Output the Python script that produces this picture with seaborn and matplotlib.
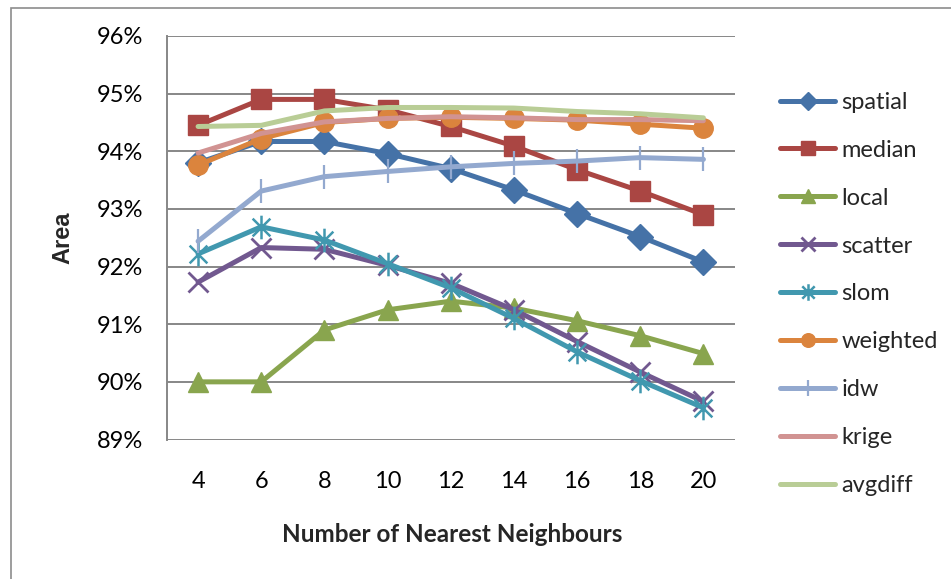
import matplotlib
matplotlib.use("Agg")
import matplotlib.pyplot as plt
from matplotlib.lines import Line2D
from matplotlib.patches import Rectangle
from matplotlib.path import Path
from matplotlib.ticker import FuncFormatter, MultipleLocator
import seaborn as sns
import pandas as pd

# Number of nearest neighbours (category axis)
neighbours = [4, 6, 8, 10, 12, 14, 16, 18, 20]

# Area (%) for each method
spatial  = [93.80, 94.17, 94.17, 93.96, 93.70, 93.33, 92.92, 92.52, 92.08]
median   = [94.45, 94.90, 94.90, 94.72, 94.43, 94.09, 93.68, 93.31, 92.90]
local    = [90.00, 90.00, 90.90, 91.25, 91.40, 91.28, 91.06, 90.80, 90.49]
scatter  = [91.73, 92.33, 92.30, 92.02, 91.71, 91.25, 90.70, 90.17, 89.66]
slom     = [92.22, 92.69, 92.46, 92.05, 91.63, 91.10, 90.52, 90.02, 89.55]
weighted = [93.76, 94.22, 94.50, 94.57, 94.59, 94.57, 94.54, 94.47, 94.40]
idw      = [92.44, 93.31, 93.56, 93.65, 93.73, 93.79, 93.83, 93.89, 93.86]
krige    = [93.97, 94.31, 94.51, 94.57, 94.60, 94.58, 94.55, 94.55, 94.53]
avgdiff  = [94.43, 94.45, 94.70, 94.76, 94.76, 94.75, 94.69, 94.65, 94.58]

series_names = ["spatial", "median", "local", "scatter", "slom",
                "weighted", "idw", "krige", "avgdiff"]
series_values = [spatial, median, local, scatter, slom,
                 weighted, idw, krige, avgdiff]
colors = ["#4572A7", "#AA4643", "#89A54E", "#71588F", "#4198AF",
          "#DB843D", "#93A9CF", "#D19392", "#B9CD96"]

# Asterisk marker: a vertical stroke crossed by an "x"
ASTERISK = Path([(0, -1), (0, 1), (-0.75, -0.75), (0.75, 0.75),
                 (-0.75, 0.75), (0.75, -0.75)],
                [Path.MOVETO, Path.LINETO] * 3)

markers = ["D", "s", "^", "x", ASTERISK, "o", "|", None, None]
marker_sizes = [13, 14, 15, 14, 17, 14, 17, 0, 0]
marker_edge = [1, 1, 1, 2.0, 1.8, 1, 1.6, 1, 1]
open_markers = {"x", "|"}

sns.set_theme(style="white")
plt.rcParams["font.family"] = ["Lato", "DejaVu Sans"]

FS = 17

fig = plt.figure(figsize=(9.51, 5.79), dpi=100)
ax = fig.add_axes([166.5 / 951, 1 - 439.5 / 579, 568.5 / 951, 403.5 / 579])


def marker_style(mk, ms, mew, col):
    face = "none" if (isinstance(mk, Path) or mk in open_markers) else col
    return dict(marker=mk, markersize=ms, markeredgewidth=mew,
                markeredgecolor=col, markerfacecolor=face)


pos = list(range(len(neighbours)))
for name, vals, col, mk, ms, mew in zip(series_names, series_values, colors,
                                        markers, marker_sizes, marker_edge):
    df = pd.DataFrame({"pos": pos, "area": vals})
    kw = dict(linewidth=3.6, color=col, ax=ax, legend=False,
              solid_capstyle="round", solid_joinstyle="round")
    if mk is not None:
        kw.update(marker_style(mk, ms, mew, col))
    sns.lineplot(data=df, x="pos", y="area", **kw)

ax.set_xlim(-0.5, len(neighbours) - 0.5)
ax.set_ylim(89, 96)
ax.set_xticks(pos)
ax.set_xticklabels([str(n) for n in neighbours])
ax.yaxis.set_major_locator(MultipleLocator(1))
ax.yaxis.set_major_formatter(FuncFormatter(lambda v, p: f"{v:.0f}%"))
ax.tick_params(axis="both", length=0, labelsize=FS, colors="black")
ax.tick_params(axis="x", pad=23)
ax.tick_params(axis="y", pad=17)
ax.grid(axis="y", color="#878787", linewidth=1.4)
ax.set_axisbelow(True)
for s in ["top", "right", "bottom"]:
    ax.spines[s].set_visible(False)
ax.spines["left"].set_color("#878787")
ax.spines["left"].set_linewidth(1.4)
ax.set_xlabel("")
ax.set_ylabel("")

fig.text(452 / 951, 1 - 535 / 579, "Number of Nearest Neighbours",
         ha="center", va="center", fontsize=FS + 0.5, fontweight="bold")
fig.text(62.5 / 951, 1 - 238 / 579, "Area", rotation=90, ha="center",
         va="center", fontsize=17, fontweight="bold",
         family=["Liberation Sans", "DejaVu Sans"])

handles = []
for name, col, mk, ms, mew in zip(series_names, colors, markers,
                                  marker_sizes, marker_edge):
    style = marker_style(mk, ms * 0.7, mew, col) if mk is not None else {}
    h = Line2D([], [], color=col, linewidth=3.6, solid_capstyle="round",
               **style)
    handles.append(h)
fig.legend(handles, series_names, loc="upper left",
           bbox_to_anchor=(768 / 951, 1 - 80 / 579), frameon=False,
           fontsize=FS, handlelength=2.35, handletextpad=0.25,
           labelspacing=1.14, borderpad=0)

fig.add_artist(Rectangle((10.5 / 951, -0.1), 2.0, 1.1 - 7.5 / 579,
                         transform=fig.transFigure, fill=False,
                         edgecolor="#8c8c8c", linewidth=1.2))

fig.savefig("out.png", dpi=100, facecolor="white")
